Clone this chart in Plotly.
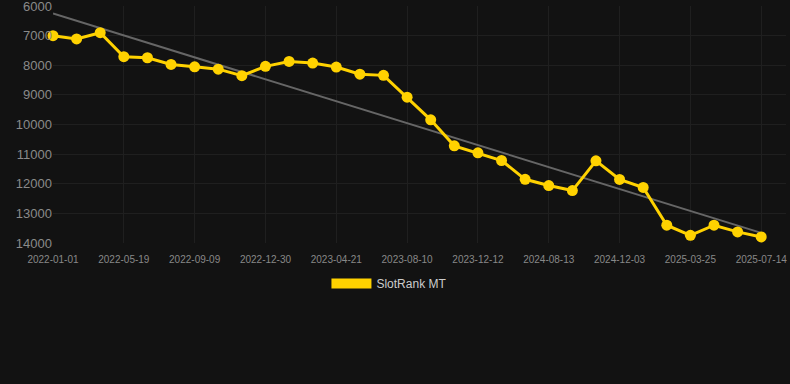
import numpy as np
import plotly.graph_objects as go

dates = [
    "2022-01-01", "2022-02-16", "2022-04-03", "2022-05-19", "2022-06-30", "2022-08-05",
    "2022-09-09", "2022-10-20", "2022-11-25", "2022-12-30", "2023-02-08", "2023-03-16",
    "2023-04-21", "2023-05-27", "2023-07-05", "2023-08-10", "2023-09-22", "2023-10-31",
    "2023-12-12", "2024-03-01", "2024-05-20", "2024-08-13", "2024-09-20", "2024-10-28",
    "2024-12-03", "2025-01-10", "2025-02-16", "2025-03-25", "2025-05-01", "2025-06-07",
    "2025-07-14",
]
ranks = [
    7000, 7110, 6900, 7710, 7745, 7970, 8050, 8130, 8350, 8035,
    7870, 7925, 8060, 8300, 8340, 9075, 9840, 10720, 10955, 11215,
    11850, 12060, 12230, 11225, 11855, 12125, 13400, 13740, 13400, 13625,
    13795,
]
tick_labels = dates[::3]
series_name = "SlotRank MT"

idx = np.arange(len(ranks))
slope, intercept = np.polyfit(idx, ranks, 1)
trend = slope * idx + intercept

fig = go.Figure()
fig.add_trace(go.Scatter(
    x=dates, y=trend, mode="lines",
    line=dict(color="#666666", width=2), showlegend=False, hoverinfo="skip",
))
fig.add_trace(go.Scatter(
    x=dates, y=ranks, mode="lines+markers", name=series_name,
    line=dict(color="#FFD200", width=3),
    marker=dict(color="#FFD200", size=11),
    showlegend=False, cliponaxis=False,
))
fig.add_trace(go.Scatter(
    x=[None], y=[None], mode="lines", name=series_name,
    line=dict(color="#FFD200", width=12),
))

fig.update_layout(
    width=790, height=384,
    paper_bgcolor="#121212", plot_bgcolor="#121212",
    margin=dict(l=53, r=4, t=6, b=141, autoexpand=False),
    font=dict(family="Liberation Sans, Arial, sans-serif", color="#8a8a8a"),
    legend=dict(
        orientation="h", x=0.459, xanchor="center",
        y=-0.11, yanchor="top",
        font=dict(size=12, color="#cccccc"), itemwidth=40,
        bgcolor="rgba(0,0,0,0)",
    ),
    xaxis=dict(
        type="category", categoryorder="array", categoryarray=dates,
        tickmode="array", tickvals=tick_labels, ticktext=tick_labels,
        range=[0, 31.05], tickangle=0, automargin=False,
        showgrid=True, gridcolor="#1f1f1f", gridwidth=1,
        zeroline=False, showline=False,
        tickfont=dict(size=10, color="#888888"),
        ticks="", ticklabelstandoff=9,
    ),
    yaxis=dict(
        range=[14000, 5998], tickvals=[6000, 7000, 8000, 9000, 10000, 11000, 12000, 13000, 14000],
        showgrid=True, gridcolor="#1f1f1f", gridwidth=1, automargin=False,
        zeroline=False, showline=False,
        tickfont=dict(size=13, color="#8a8a8a"),
        ticks="", tickformat="d", ticklabeloverflow="allow",
    ),
)

fig.write_html(
    "out.html",
    config={"displayModeBar": False},
    post_script="document.body.style.margin='0';document.body.style.background='#121212';",
)
